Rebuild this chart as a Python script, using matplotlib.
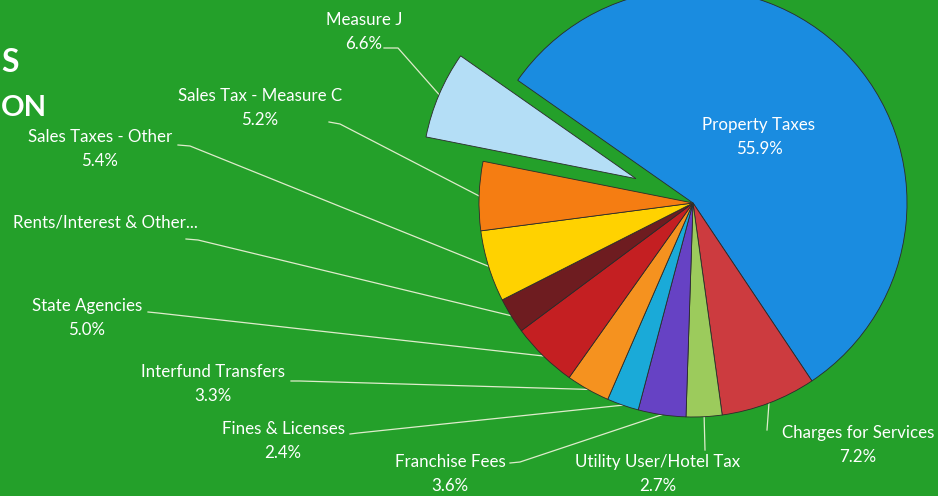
import math
import matplotlib
matplotlib.use("Agg")
import matplotlib.pyplot as plt

# revenue shares, clockwise from the top slice
labels = [
    "Property Taxes",
    "Charges for Services",
    "Utility User/Hotel Tax",
    "Franchise Fees",
    "Fines & Licenses",
    "Interfund Transfers",
    "State Agencies",
    "Rents/Interest & Other...",
    "Sales Taxes - Other",
    "Sales Tax - Measure C",
    "Measure J",
]
shares = [55.9, 7.2, 2.7, 3.6, 2.4, 3.3, 5.0, 2.7, 5.4, 5.2, 6.6]
show_pct = [True, True, True, True, True, True, True, False, True, True, True]

colors = [
    "#1a8ce0", "#cc3b3f", "#9ccb5c", "#6642c4", "#1aaad8", "#f5921f",
    "#c41f22", "#6e1c20", "#ffd200", "#f57d12", "#b4def6",
]

W, H = 938, 496
BG = "#24a02a"
LINE = "#dfeccc"

# label layout in pixel coords (y down): text centre, line start, elbow
text_pos = [
    (759, 137), (858, 445), (658, 474), (450, 474), (283, 441), (213, 384),
    (87, 318), (105, 223), (100, 149), (260, 108), (364, 32),
]
line_start = [
    None, (767, 430), (705, 450), (510, 463), (350, 434), (291, 381),
    (148, 312), (186, 239), (178, 145), (329, 122), (384, 48),
]
elbow = [
    None, None, None, (520, 462), (358, 433), (300, 381),
    (158, 313), (198, 240), (190, 146), (340, 124), (398, 48),
]


def px(x, y):
    return x, H - y


plt.rcParams["font.family"] = ["Lato", "DejaVu Sans"]

fig = plt.figure(figsize=(W / 100, H / 100), dpi=100, facecolor=BG)
ax = fig.add_axes([0, 0, 1, 1])
ax.set_facecolor(BG)

radius = 214
explode = [0] * (len(shares) - 1) + [0.29 * radius]
wedges, _ = ax.pie(
    shares,
    colors=colors,
    startangle=145,
    counterclock=False,
    center=px(693, 203),
    radius=radius,
    explode=explode,
    wedgeprops={"edgecolor": "#2b2b2b", "linewidth": 0.6},
)
ax.set_xlim(0, W)
ax.set_ylim(0, H)
ax.set_aspect("equal")
ax.axis("off")

for i, w in enumerate(wedges):
    txt = labels[i]
    if show_pct[i]:
        txt += f"\n{shares[i]:.1f}%"
    tx, ty = px(*text_pos[i])
    ax.text(tx, ty, txt, ha="center", va="center", color="white",
            fontsize=12.2, linespacing=1.6)
    if line_start[i] is None:
        continue
    mid = math.radians((w.theta1 + w.theta2) / 2)
    cx, cy = w.center
    end = (cx + w.r * math.cos(mid), cy + w.r * math.sin(mid))
    pts = [px(*line_start[i])]
    if elbow[i] is not None:
        pts.append(px(*elbow[i]))
    pts.append(end)
    xs, ys = zip(*pts)
    ax.plot(xs, ys, color=LINE, lw=0.9, zorder=0.5)

# title letters at the left edge (rest of the title is off the page)
ax.text(*px(1, 63), "S", ha="left", va="center", color="white",
        fontsize=23, fontweight="bold")
ax.text(*px(1, 108), "ON", ha="left", va="center", color="white",
        fontsize=21, fontweight="bold")

fig.savefig("out.png", dpi=100, facecolor=BG)
